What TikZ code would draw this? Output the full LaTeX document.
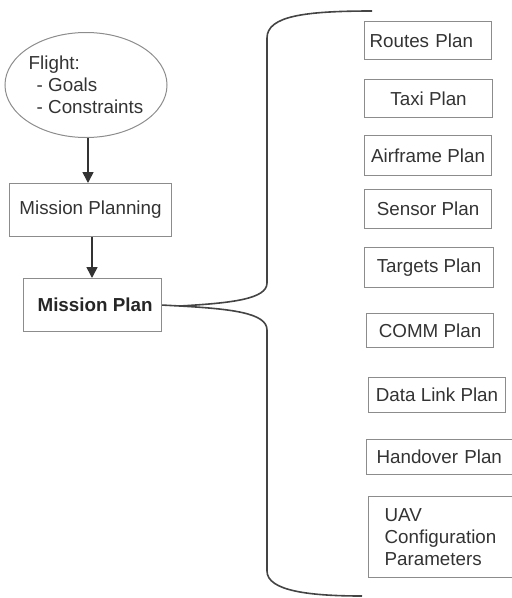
\documentclass[tikz,border=0pt]{standalone}
\usepackage{fontspec}
\setmainfont{Liberation Sans}
\usetikzlibrary{shapes.geometric,arrows.meta}
\definecolor{textgrey}{HTML}{333333}
\definecolor{boxgrey}{HTML}{8C8C8C}
\definecolor{linegrey}{HTML}{333333}
\definecolor{bracegrey}{HTML}{444444}
\begin{document}
\begin{tikzpicture}[x=1pt,y=-1pt,
  txt/.style={font=\fontsize{18.8}{21.8}\selectfont, text=textgrey},
  plan/.style={draw=boxgrey, line width=1.1pt, txt, inner sep=0pt, anchor=north west},
  leftplan/.style={plan, align=left},
  arr/.style={-{Triangle[width=11pt,length=11pt]}, line width=1.6pt, draw=linegrey},
  brace/.style={line width=1.6pt, draw=bracegrey}]
\useasboundingbox (0,0) rectangle (512,598);
\clip (0,0) rectangle (512,598);

\node[ellipse, draw=boxgrey, line width=1pt, txt, inner sep=0pt,
      minimum width=159pt, minimum height=105pt, align=left] (flight) at (86,85)
  {Flight:\\\hspace*{8pt}- Goals\\\hspace*{8pt}- Constraints};

\node[plan, minimum width=162pt, minimum height=53pt] (mplanning) at (9,183) {Mission Planning};
\node[plan, minimum width=138pt, minimum height=53pt, font=\fontsize{18.8}{21.8}\selectfont\bfseries, text=black!85] (mp) at (23,278) {\hspace*{5pt}Mission Plan};

\draw[arr] (flight.south -| 88,0) -- (88,0 |- mplanning.north);
\draw[arr] (92,0 |- mplanning.south) -- (92,0 |- mp.north);

\node[leftplan, minimum width=127pt, minimum height=38pt, text width=117pt, inner xsep=5pt] (routes) at (364,21) {Routes Plan};
\node[plan, minimum width=128pt, minimum height=38pt] (taxi) at (364,79) {Taxi Plan};
\node[plan, minimum width=127pt, minimum height=40pt] (airframe) at (364,135) {Airframe Plan};
\node[plan, minimum width=127pt, minimum height=39pt] (sensor) at (364,189) {Sensor Plan};
\node[plan, minimum width=129pt, minimum height=40pt] (targets) at (364,247) {Targets Plan};
\node[plan, minimum width=127pt, minimum height=34pt] (comm) at (366,313) {COMM Plan};
\node[plan, minimum width=137pt, minimum height=35pt] (datalink) at (368,377) {Data Link Plan};
\node[leftplan, minimum width=160pt, minimum height=35pt, text width=140pt, inner xsep=10pt] (handover) at (366,439) {Handover Plan};
\node[leftplan, minimum width=160pt, minimum height=81pt, text width=128pt, inner xsep=16pt] (uav) at (368,496) {UAV\\Configuration\\Parameters};

\coordinate (tip) at (180,306);
\coordinate (topend) at (372,11);
\coordinate (botend) at (362,596);
\draw[brace] (mp.east) -- (tip)
  .. controls (232,303) and (267,299) .. (267,283)
  -- (267,38) .. controls (267,16) and (305,11) .. (topend);
\draw[brace] (tip)
  .. controls (232,309) and (267,313) .. (267,330)
  -- (267,571) .. controls (267,591) and (310,596) .. (botend);
\end{tikzpicture}
\end{document}
